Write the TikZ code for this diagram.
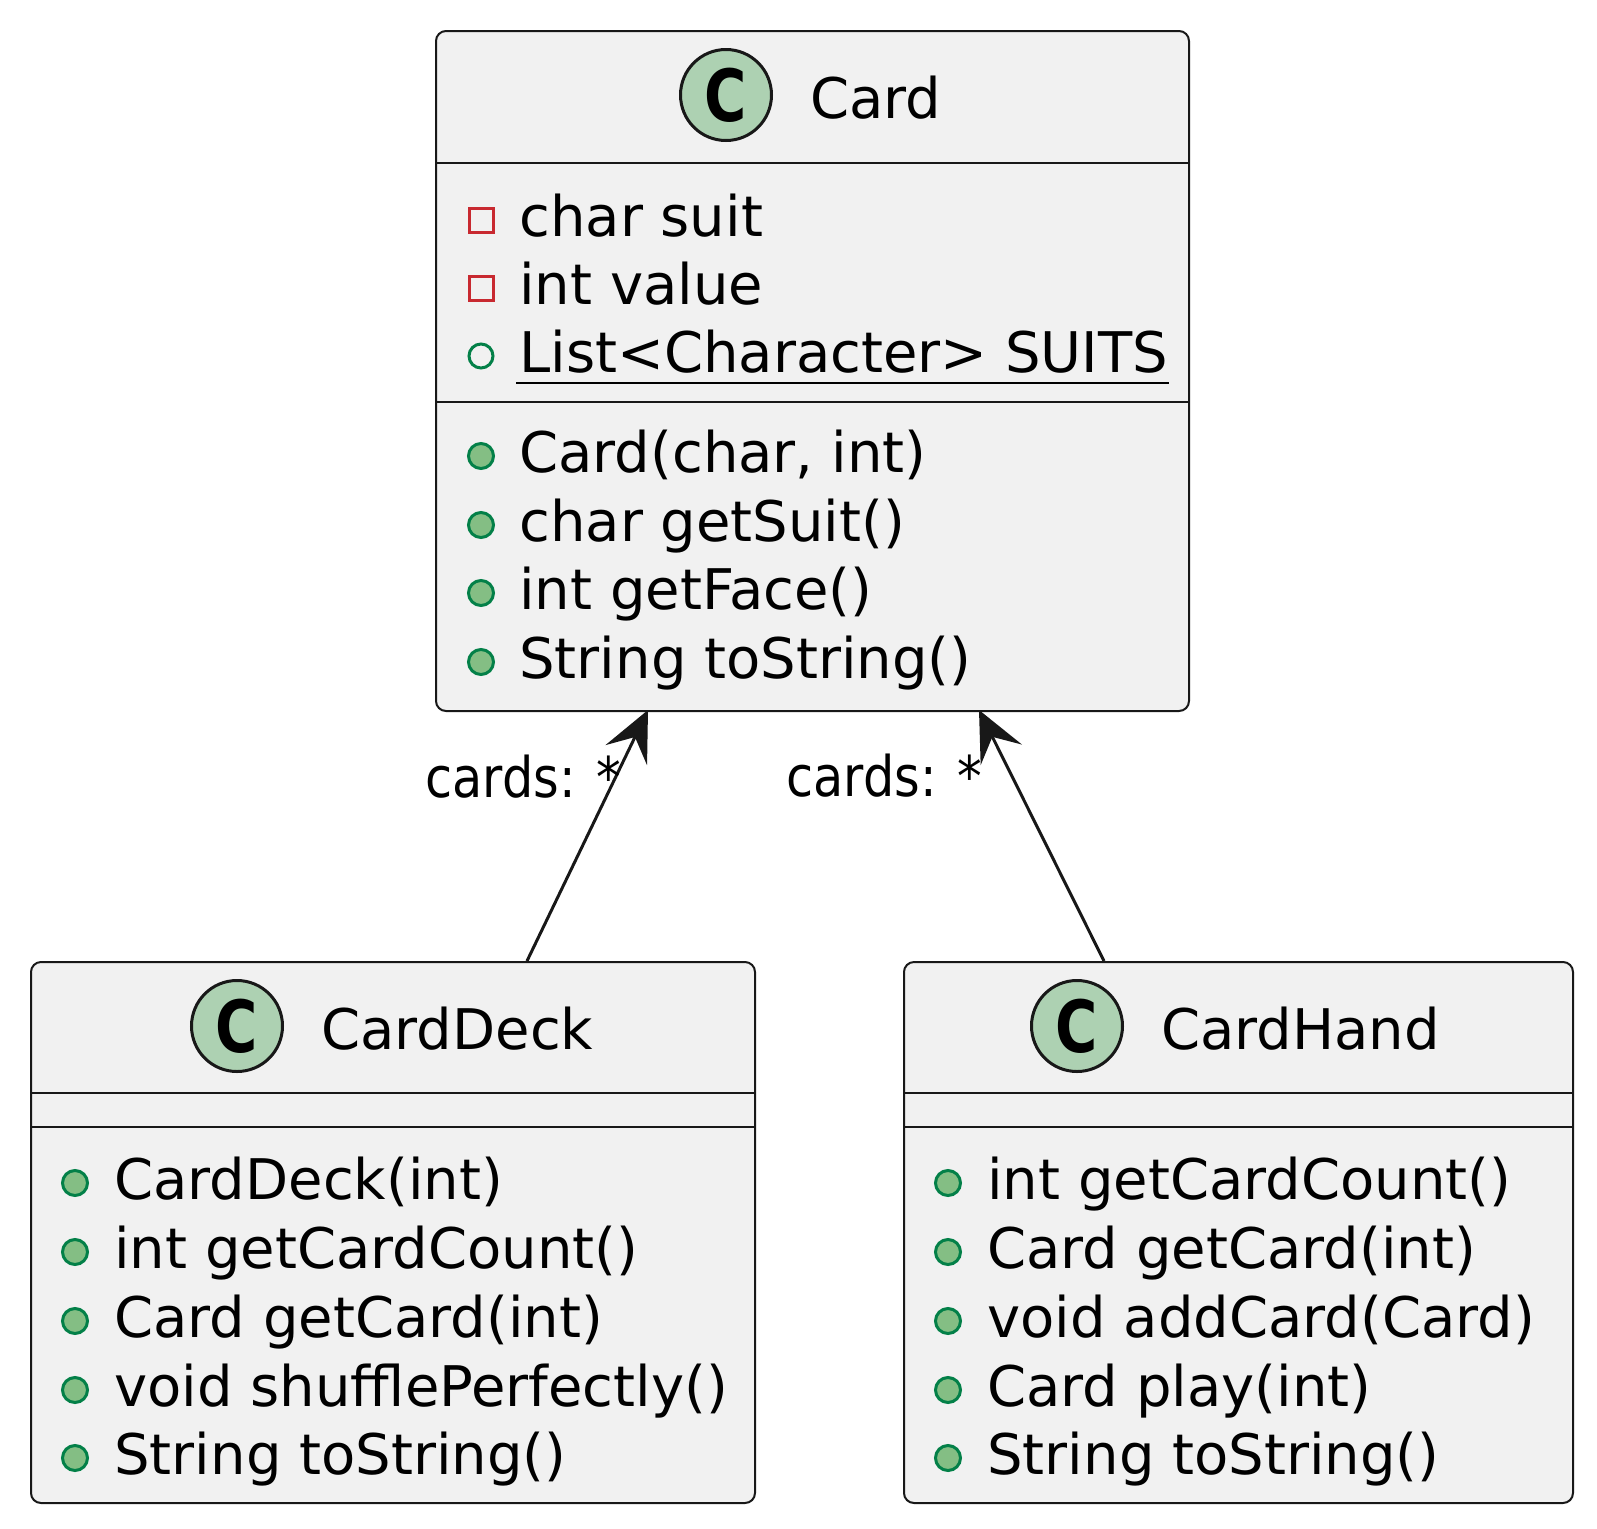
\documentclass[tikz,border=0pt]{standalone}
\usepackage{fontspec}
\setmainfont{DejaVu Sans}
\usetikzlibrary{arrows.meta}
\definecolor{boxfill}{HTML}{F1F1F1}
\definecolor{boxline}{HTML}{181818}
\definecolor{spotfill}{HTML}{ADD1B2}
\definecolor{pubfill}{HTML}{84BE84}
\definecolor{publine}{HTML}{038048}
\definecolor{privline}{HTML}{C82930}
\newcommand{\spotC}{\scalebox{0.8}[1]{\fontsize{36pt}{36pt}\selectfont\bfseries C}}
\newcommand{\rolelabel}[1]{\scalebox{0.88}[1]{#1}}
\tikzset{
  classbox/.style={draw=boxline, fill=boxfill, line width=1pt, rounded corners=5pt,
    inner sep=0pt, anchor=north west},
  sepline/.style={draw=boxline, line width=0.8pt},
  spot/.style={circle, draw=boxline, fill=spotfill, line width=1.5pt, minimum size=45.5pt, inner sep=0pt},
  cname/.style={anchor=base west, inner sep=0pt, font=\fontsize{28pt}{34pt}\selectfont},
  mtext/.style={anchor=base west, inner sep=0pt, font=\fontsize{28pt}{34pt}\selectfont},
  pubm/.style={circle, draw=publine, fill=pubfill, line width=1.5pt, minimum size=12.5pt, inner sep=0pt},
  pubf/.style={circle, draw=publine, line width=1.5pt, minimum size=12pt, inner sep=0pt},
  privf/.style={rectangle, draw=privline, line width=1.5pt, minimum size=12pt, inner sep=0pt},
  assoc/.style={draw=boxline, line width=1.5pt, -{Stealth[length=25pt, width=23pt, inset=10pt]}}
}
\begin{document}
\begin{tikzpicture}[x=0.5pt, y=-0.5pt]
\useasboundingbox (0,0) rectangle (1597,1528);
% class Card
\node[classbox, minimum width=376.5pt, minimum height=340pt] (card) at (435,30) {};
\node[spot] (cardspot) at (726,95) {\spotC};
\node[cname] (cardname) at (810,118) {Card};
\draw[sepline] (card.west |- 0,163) -- (card.east |- 0,163);
\node[privf] at (481,220) {};
\node[mtext] (suit) at (519,236) {char suit};
\node[privf] at (481,288) {};
\node[mtext] (value) at (519,304) {int value};
\node[pubf] at (481,356) {};
\node[mtext] (suits) at (519,372) {List<Character> SUITS};
\draw[line width=1.4pt] ([xshift=-1.5pt,yshift=-5.5pt]suits.base west) -- ([yshift=-5.5pt]suits.base east);
\draw[sepline] (card.west |- 0,402) -- (card.east |- 0,402);
\node[pubm] at (481,456) {};
\node[mtext] (cardctor) at (519,472) {Card(char, int)};
\node[pubm] at (481,525) {};
\node[mtext] (getsuit) at (519,541) {char getSuit()};
\node[pubm] at (481,593) {};
\node[mtext] (getface) at (519,609) {int getFace()};
\node[pubm] at (481,662) {};
\node[mtext] (cardstr) at (519,678) {String toString()};
% class CardDeck
\node[classbox, minimum width=362pt, minimum height=270.5pt] (deck) at (30,961) {};
\node[spot] (deckspot) at (237,1026) {\spotC};
\node[cname] (deckname) at (321,1049) {CardDeck};
\draw[sepline] (deck.west |- 0,1093) -- (deck.east |- 0,1093);
\draw[sepline] (deck.west |- 0,1127) -- (deck.east |- 0,1127);
\node[pubm] at (75,1183) {};
\node[mtext] (deckctor) at (114,1199) {CardDeck(int)};
\node[pubm] at (75,1252) {};
\node[mtext] (deckcount) at (114,1268) {int getCardCount()};
\node[pubm] at (75,1321) {};
\node[mtext] (deckget) at (114,1337) {Card getCard(int)};
\node[pubm] at (75,1390) {};
\node[mtext] (shuffle) at (114,1406) {void shufflePerfectly()};
\node[pubm] at (75,1458) {};
\node[mtext] (deckstr) at (114,1474) {String toString()};
% class CardHand
\node[classbox, minimum width=334.5pt, minimum height=270.5pt] (hand) at (903,961) {};
\node[spot] (handspot) at (1077,1026) {\spotC};
\node[cname] (handname) at (1161,1049) {CardHand};
\draw[sepline] (hand.west |- 0,1093) -- (hand.east |- 0,1093);
\draw[sepline] (hand.west |- 0,1127) -- (hand.east |- 0,1127);
\node[pubm] at (948,1183) {};
\node[mtext] (handcount) at (987,1199) {int getCardCount()};
\node[pubm] at (948,1252) {};
\node[mtext] (handget) at (987,1268) {Card getCard(int)};
\node[pubm] at (948,1321) {};
\node[mtext] (addcard) at (987,1337) {void addCard(Card)};
\node[pubm] at (948,1390) {};
\node[mtext] (play) at (987,1406) {Card play(int)};
\node[pubm] at (948,1458) {};
\node[mtext] (handstr) at (987,1474) {String toString()};
% associations
\coordinate (deckend) at (527,961);
\coordinate (cardleft) at (648,710);
\coordinate (handend) at (1104,961);
\coordinate (cardright) at (979,710);
\draw[assoc] (deckend) -- (cardleft);
\draw[assoc] (handend) -- (cardright);
\node[mtext] (deckrole) at (425,797) {\rolelabel{cards: *}};
\node[mtext] (handrole) at (786,796) {\rolelabel{cards: *}};
\end{tikzpicture}
\end{document}
